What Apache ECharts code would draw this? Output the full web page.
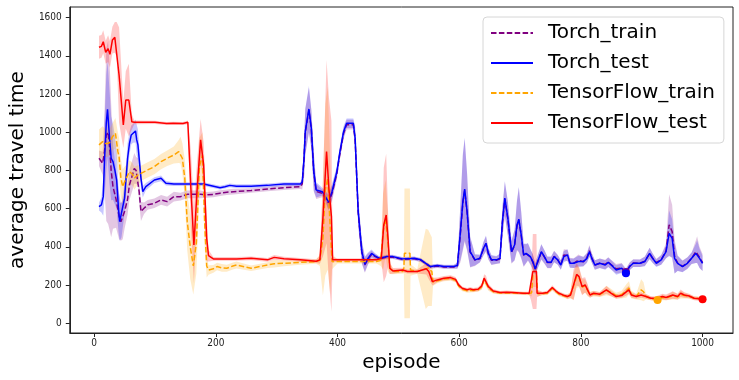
<!doctype html>
<html lang="en">

<head>
    <meta charset="utf-8">
    <title>average travel time</title>
    <script src="https://cdn.jsdelivr.net/npm/echarts@6/dist/echarts.min.js"></script>
    <style type="text/css">
        body {
            margin: 0;
            background: #fff;
        }

        #chart {
            width: 739px;
            height: 380px;
        }
    </style>
</head>

<body>
    <div id="chart"></div>
    <script>
        // tick labels
        const xTicks = [0, 200, 400, 600, 800, 1000];
        const yTicks = [0, 200, 400, 600, 800, 1000, 1200, 1400, 1600];

        const seriesNames = ['Torch_train', 'Torch_test', 'TensorFlow_train', 'TensorFlow_test'];

        // rows: [episode, mean, spread]
        const torchTrain = [[8,864,40],[14,838,60],[17,900,200],[20,986,450],[23,1000,480],[26,900,420],[28,800,350],[31,715,220],[36,650,150],[41,560,120],[44,532,100],[47,540,100],[50,585,90],[55,650,80],[58,724,80],[63,777,80],[66,811,80],[69,800,70],[72,794,70],[74,689,60],[77,585,50],[82,602,30],[88,620,25],[99,628,25],[110,646,25],[120,637,25],[131,663,25],[142,663,20],[153,675,20],[175,675,20],[185,672,15],[196,675,15],[207,681,15],[218,686,15],[229,689,15],[258,695,12],[285,703,12],[312,710,12],[339,715,12],[342,730,30],[345,860,100],[347,1000,120],[353,1115,120],[357,1015,100],[361,790,100],[365,690,40],[375,680,20],[378,672,20],[385,630,40],[391,680,40],[399,785,30],[404,890,30],[410,995,30],[415,1040,25],[426,1040,25],[429,960,60],[434,580,70],[440,370,60],[445,305,40],[450,335,30],[456,360,20],[461,350,15],[469,338,10],[480,345,10],[491,346,10],[507,335,10],[526,338,10],[537,330,10],[545,312,10],[553,295,10],[564,300,10],[575,295,10],[591,295,10],[597,300,15],[602,470,150],[606,630,250],[609,695,270],[613,580,200],[618,372,80],[626,330,30],[634,338,20],[640,390,35],[644,415,40],[648,362,30],[653,330,25],[661,330,20],[667,338,25],[671,525,80],[675,650,90],[680,545,90],[686,372,60],[691,408,80],[695,510,130],[698,540,170],[702,458,120],[706,355,60],[710,364,50],[713,372,45],[717,347,40],[721,320,40],[725,284,30],[729,320,35],[735,372,40],[740,347,35],[745,318,30],[751,318,30],[756,350,30],[762,332,25],[767,305,25],[772,358,30],[778,355,30],[782,318,25],[788,314,25],[796,330,30],[804,322,25],[810,345,25],[814,380,30],[818,342,25],[823,305,25],[831,314,25],[840,308,25],[845,320,25],[850,306,25],[858,285,25],[867,290,25],[874,268,20],[880,298,20],[886,315,20],[897,314,20],[905,325,25],[913,365,30],[918,340,25],[924,318,20],[932,332,25],[940,380,40],[945,515,160],[950,480,140],[954,350,90],[959,315,40],[967,298,30],[975,315,30],[982,340,30],[989,375,60],[991,385,70],[995,345,55],[1000,318,45]];

        const torchTest = [[8,611,20],[12,620,40],[15,663,100],[17,850,200],[20,1050,250],[22,1120,250],[25,986,250],[28,864,220],[31,846,200],[34,803,180],[37,750,150],[40,600,120],[42,532,100],[45,540,90],[50,655,80],[55,864,80],[58,940,60],[61,986,50],[64,995,50],[68,1007,60],[70,960,80],[72,934,80],[77,759,50],[80,689,30],[85,715,20],[99,750,15],[110,759,15],[118,733,12],[131,729,10],[150,729,10],[180,729,10],[207,710,10],[215,715,10],[223,722,10],[234,718,10],[258,718,10],[285,722,10],[312,729,10],[339,729,10],[342,740,20],[345,864,100],[347,1003,120],[353,1122,120],[357,1021,100],[361,794,100],[365,698,40],[375,689,20],[378,681,20],[385,637,40],[391,689,40],[399,794,30],[404,899,30],[410,1003,30],[415,1047,25],[426,1047,25],[429,969,60],[434,585,70],[440,375,60],[445,309,40],[450,340,30],[456,366,20],[461,354,15],[469,340,10],[480,349,10],[491,349,10],[502,340,10],[507,337,10],[526,340,10],[537,332,10],[545,314,10],[553,297,10],[564,302,10],[575,297,10],[591,297,10],[597,302,15],[602,480,150],[606,637,250],[609,703,270],[613,585,200],[618,375,80],[626,332,30],[634,340,20],[640,393,35],[644,419,40],[648,366,30],[653,332,25],[661,332,20],[667,340,25],[671,532,80],[675,655,90],[680,550,90],[686,375,60],[691,410,80],[695,515,130],[698,545,170],[702,462,120],[706,358,60],[710,366,50],[713,375,45],[717,349,40],[721,323,40],[725,284,30],[729,323,35],[735,375,40],[740,349,35],[745,319,30],[751,319,30],[756,349,30],[762,332,25],[767,305,25],[772,349,30],[778,358,30],[782,314,25],[788,314,25],[796,323,30],[804,323,25],[810,340,25],[814,375,30],[818,340,25],[823,305,25],[831,314,25],[840,305,25],[845,319,25],[850,305,25],[858,279,25],[867,288,25],[874,262,20],[880,297,20],[886,314,20],[897,314,20],[905,323,25],[913,366,30],[918,340,25],[924,314,20],[932,332,25],[940,375,35],[945,471,120],[950,445,100],[954,340,80],[959,314,40],[967,297,30],[975,314,30],[982,340,30],[989,366,50],[991,375,60],[995,340,50],[1000,314,40]];

        const tfTrain = [[8,934,80],[14,951,80],[20,940,70],[25,945,70],[30,976,70],[35,995,80],[39,900,100],[41,872,100],[44,760,100],[47,715,90],[50,740,80],[53,759,70],[58,794,60],[63,780,60],[66,759,60],[72,777,50],[77,785,40],[88,803,40],[99,820,40],[110,846,40],[120,864,40],[131,881,45],[139,899,60],[142,907,70],[145,864,80],[149,759,100],[153,532,150],[158,400,170],[163,300,150],[168,420,160],[173,820,150],[178,880,120],[182,500,120],[185,300,60],[188,279,25],[196,285,20],[202,297,20],[210,290,20],[218,288,18],[228,300,18],[234,305,18],[258,288,15],[285,305,15],[296,312,20],[312,314,15],[339,319,12],[365,323,12],[371,330,30],[376,445,300],[380,700,450],[384,760,480],[388,500,350],[391,323,40],[400,323,10],[440,323,10],[464,323,10],[471,330,30],[475,480,200],[479,550,200],[483,420,150],[486,288,30],[491,271,15],[507,271,12],[509,290,30],[510,366,340],[519,366,340],[520,279,30],[531,271,12],[545,285,210],[549,290,200],[555,271,180],[557,215,20],[564,222,12],[575,232,12],[586,235,12],[594,225,12],[599,195,12],[605,178,10],[613,170,10],[623,172,10],[631,175,10],[637,190,15],[641,228,20],[648,185,15],[656,165,10],[667,158,8],[688,158,8],[715,155,8],[719,160,20],[721,250,60],[727,250,60],[729,155,15],[737,155,8],[745,158,10],[753,182,12],[759,165,10],[764,152,10],[773,143,10],[778,138,12],[782,145,15],[788,195,70],[793,245,60],[797,240,50],[802,190,40],[807,195,35],[811,172,30],[815,150,15],[821,155,15],[831,150,12],[842,172,25],[850,160,20],[858,145,15],[867,150,20],[875,170,35],[879,185,35],[883,150,20],[891,140,15],[899,175,55],[903,165,50],[907,140,15],[915,130,10],[920,125,10],[926,122,8],[934,135,15],[940,132,12],[951,145,20],[959,138,15],[964,150,20],[970,145,15],[978,140,12],[986,132,10],[994,130,10],[1000,128,8]];

        const tfTest = [[8,1445,60],[12,1450,60],[15,1474,60],[19,1419,60],[23,1438,70],[26,1408,70],[30,1483,70],[34,1497,80],[37,1487,90],[41,1300,250],[48,1038,120],[52,1169,150],[57,1169,190],[62,1055,40],[66,1052,10],[100,1052,8],[119,1046,8],[130,1047,8],[146,1046,8],[154,1052,10],[159,707,200],[164,410,200],[169,689,150],[175,960,110],[180,829,120],[185,445,120],[188,354,30],[196,337,10],[234,337,10],[258,340,10],[285,332,10],[296,345,12],[312,338,10],[339,332,10],[365,325,10],[371,332,20],[376,550,200],[382,899,480],[386,700,480],[390,560,500],[392,332,15],[400,332,8],[464,332,8],[472,340,15],[476,515,300],[480,567,320],[483,445,150],[486,288,30],[491,274,15],[507,279,12],[515,271,10],[531,271,10],[546,285,30],[550,271,40],[556,218,20],[564,227,12],[575,236,12],[586,239,12],[594,230,12],[599,201,12],[605,183,10],[613,175,10],[618,180,10],[623,175,10],[631,178,10],[637,195,15],[641,236,20],[644,230,20],[648,192,15],[656,169,10],[667,161,8],[678,163,8],[688,161,8],[705,157,8],[715,157,8],[718,160,40],[721,271,196],[727,271,196],[728,157,20],[737,157,8],[745,161,10],[753,187,12],[759,169,10],[764,157,10],[773,145,10],[778,140,12],[783,148,15],[788,201,80],[793,256,60],[797,244,50],[802,192,45],[807,201,40],[811,175,30],[815,148,15],[821,157,12],[831,152,12],[842,175,20],[850,157,15],[858,140,12],[867,145,12],[875,166,20],[879,175,20],[883,148,15],[891,140,12],[899,148,15],[907,140,12],[915,131,10],[924,131,10],[934,140,15],[940,135,15],[951,148,20],[959,140,15],[964,157,20],[970,148,15],[978,143,12],[986,131,10],[994,128,10],[1000,126,8]];

        const lineColors = ['#800080', '#0000ff', '#ffa500', '#ff0000'];
        const bandColors = ['rgba(128,0,128,0.22)', 'rgba(0,0,255,0.22)', 'rgba(255,165,0,0.22)', 'rgba(255,0,0,0.22)'];
        const dashed = [true, false, true, false];

        function makeSeries(rows, idx) {
            let name = seriesNames[idx];
            let best = rows[0];
            rows.forEach(function (r) { if (r[1] < best[1]) best = r; });
            return [{
                // shaded band: mean +- spread, drawn as one polygon
                name: name + '_band',
                type: 'custom',
                silent: true,
                data: rows.map(function (r) { return [r[0], r[1] - r[2], r[1] + r[2]]; }),
                encode: { x: 0, y: [1, 2] },
                renderItem: function (params, api) {
                    if (params.dataIndex !== 0) return null;
                    let pts = [];
                    for (let i = 0; i < rows.length; ++i) {
                        pts.push(api.coord([rows[i][0], rows[i][1] + rows[i][2]]));
                    }
                    for (let i = rows.length - 1; i >= 0; --i) {
                        pts.push(api.coord([rows[i][0], rows[i][1] - rows[i][2]]));
                    }
                    return {
                        type: 'polygon',
                        shape: { points: pts },
                        style: { fill: bandColors[idx] }
                    };
                },
                z: 1
            }, {
                name: name,
                type: 'line',
                data: rows.map(function (r) { return [r[0], r[1]]; }),
                symbol: 'none',
                itemStyle: { color: lineColors[idx] },
                lineStyle: {
                    color: lineColors[idx],
                    width: 1.5,
                    type: dashed[idx] ? [5.5, 2.4] : 'solid'
                },
                z: 2 + idx * 0.1
            }, {
                name: name + '_best',
                type: 'scatter',
                data: [[best[0], best[1]]],
                symbolSize: 8,
                itemStyle: { color: lineColors[idx], opacity: 1 },
                z: 3 + idx * 0.1
            }];
        }

        let series = [].concat(
            makeSeries(torchTrain, 0),
            makeSeries(torchTest, 1),
            makeSeries(tfTrain, 2),
            makeSeries(tfTest, 3)
        );

        let myChart = echarts.init(document.getElementById('chart'));
        let option = {
            animation: false,
            textStyle: { fontFamily: 'DejaVu Sans' },
            grid: {
                left: 63, right: 6, top: 7, bottom: 47,
                show: true, borderColor: '#222', borderWidth: 1
            },
            legend: {
                data: seriesNames,
                orient: 'vertical',
                left: 483,
                top: 17,
                padding: [6, 9, 10, 7],
                itemWidth: 42,
                itemHeight: 14,
                itemGap: 10,
                backgroundColor: '#fff',
                borderColor: '#d6d6d6',
                borderWidth: 1,
                borderRadius: 4,
                itemStyle: { opacity: 0, borderWidth: 0 },
                textStyle: {
                    fontSize: 20,
                    lineHeight: 20,
                    color: '#000',
                    fontFamily: 'DejaVu Sans',
                    padding: [0, 0, 0, 10]
                }
            },
            xAxis: {
                type: 'value',
                min: -40,
                max: 1050,
                name: 'episode',
                nameLocation: 'middle',
                nameGap: 17,
                nameTextStyle: { fontSize: 20, color: '#000', fontFamily: 'DejaVu Sans' },
                axisLine: { show: true, onZero: false, lineStyle: { color: '#222' } },
                axisTick: { show: true, customValues: xTicks, length: 4, lineStyle: { color: '#222' } },
                axisLabel: {
                    customValues: xTicks, fontSize: 10, color: '#222', margin: 5,
                    fontFamily: 'DejaVu Sans Condensed, DejaVu Sans',
                    formatter: function (v) { return String(v); }
                },
                splitLine: { show: false }
            },
            yAxis: {
                type: 'value',
                min: -51,
                max: 1656,
                name: 'average travel time',
                nameLocation: 'middle',
                nameGap: 35,
                nameTextStyle: { fontSize: 20, color: '#000', fontFamily: 'DejaVu Sans' },
                axisLine: { show: true, onZero: false, lineStyle: { color: '#222' } },
                axisTick: { show: true, customValues: yTicks, length: 4, lineStyle: { color: '#222' } },
                axisLabel: {
                    customValues: yTicks, fontSize: 10, color: '#222', margin: 8,
                    fontFamily: 'DejaVu Sans Condensed, DejaVu Sans',
                    formatter: function (v) { return String(v); }
                },
                splitLine: { show: false }
            },
            series: series
        };
        myChart.setOption(option);
    </script>
</body>

</html>
